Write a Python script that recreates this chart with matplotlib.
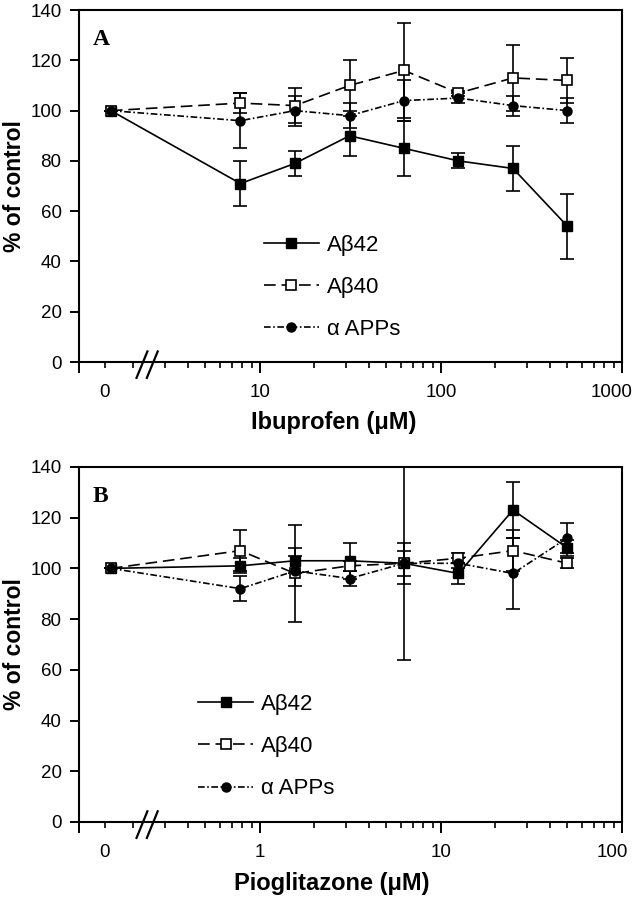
import matplotlib
matplotlib.use("Agg")
import matplotlib.pyplot as plt
import matplotlib.transforms as mtransforms
import numpy as np
from matplotlib.ticker import FixedLocator, FixedFormatter

plt.rcParams['font.family'] = ['Liberation Sans', 'DejaVu Sans']

# panel A - ibuprofen
ibu_conc = [1.5, 7.8, 15.6, 31.25, 62.5, 125, 250, 500]
ibu_ab42 = [100, 71, 79, 90, 85, 80, 77, 54]
ibu_ab42_err = [0, 9, 5, 8, 11, 3, 9, 13]
ibu_ab40 = [100, 103, 102, 110, 116, 107, 113, 112]
ibu_ab40_err = [0, 4, 7, 10, 19, 1, 13, 9]
ibu_apps = [100, 96, 100, 98, 104, 105, 102, 100]
ibu_apps_err = [0, 11, 6, 5, 8, 2, 4, 5]

# panel B - pioglitazone
pio_conc = [0.15, 0.78, 1.56, 3.125, 6.25, 12.5, 25, 50]
pio_ab42 = [100, 101, 103, 103, 102, 98, 123, 108]
pio_ab42_err = [0, 3, 5, 7, 38, 4, 11, 3]
pio_ab40 = [100, 107, 98, 101, 102, 104, 107, 102]
pio_ab40_err = [0, 8, 19, 2, 8, 2, 8, 2]
pio_apps = [100, 92, 99, 96, 102, 102, 98, 112]
pio_apps_err = [0, 5, 6, 3, 5, 2, 14, 6]

labels = ['A\u03b242', 'A\u03b240', '\u03b1 APPs']


def panel(ax, conc, series, errs, xmin, zero_pos, letter, xlabel, leg_x, xlab_x):
    styles = [dict(marker='s', ms=7.5, mfc='k', mec='k', ls='-'),
              dict(marker='s', ms=7.5, mfc='white', mec='k', mew=1.2, dashes=(7, 3.5)),
              dict(marker='o', ms=6.5, mfc='k', mec='k', dashes=(4, 1.5, 1, 1.5))]
    handles = []
    for y, e, st in zip(series, errs, styles):
        ax.errorbar(conc, y, yerr=e, fmt='none', ecolor='k', elinewidth=1.2,
                    capsize=5, capthick=1.2, zorder=2)
        h, = ax.plot(conc, y, color='k', lw=1.2, zorder=3, **st)
        handles.append(h)

    ax.set_xscale('log')
    ax.set_xlim(xmin, xmin * 1000)
    ax.set_ylim(0, 140)
    ax.set_yticks(np.arange(0, 141, 20))

    majors = [xmin, xmin * 10, xmin * 100, xmin * 1000]
    ax.xaxis.set_major_locator(FixedLocator(majors))
    ax.xaxis.set_major_formatter(FixedFormatter(['', '%g' % (xmin * 10), '%g' % (xmin * 100), '%g' % (xmin * 1000)]))
    minors = [zero_pos] + [m * d for d in majors[:3] for m in range(2, 10)]
    ax.xaxis.set_minor_locator(FixedLocator(minors))
    ax.xaxis.set_minor_formatter(FixedFormatter(['0'] + [''] * (len(minors) - 1)))

    ax.tick_params(axis='x', which='major', length=8, width=1.4, pad=8, labelsize=13.5, direction='out')
    ax.tick_params(axis='x', which='minor', length=4, width=1.2, pad=12, labelsize=13.5, direction='out')
    ax.tick_params(axis='y', which='major', length=6.5, width=1.4, pad=6, labelsize=13.5, direction='out')
    ax.tick_params(top=False, right=False)
    for s in ax.spines.values():
        s.set_linewidth(1.5)

    # last x label sits a little left of its tick, as in the original
    fig = ax.figure
    last = ax.xaxis.get_majorticklabels()[-1]
    last.set_transform(last.get_transform() +
                       mtransforms.ScaledTranslation(-10 / 100, 0, fig.dpi_scale_trans))

    # axis break mark
    for dx in (0.116, 0.135):
        ax.plot([dx - 0.010, dx + 0.010], [-0.045, 0.030], transform=ax.transAxes,
                color='k', lw=1.6, clip_on=False, zorder=5)

    ax.text(0.026, 0.945, letter, transform=ax.transAxes, fontsize=17, fontweight='bold',
            family='Liberation Serif', va='top', ha='left')
    ax.set_ylabel('% of control', fontsize=16.5, fontweight='bold')
    ax.yaxis.set_label_coords(-0.098, 0.5)
    ax.set_xlabel(xlabel, fontsize=17, fontweight='bold', va='center')
    ax.xaxis.set_label_coords(xlab_x, -0.172)

    ax.legend(handles, labels, loc='center left', bbox_to_anchor=(leg_x, 0.212),
              frameon=False, fontsize=16, handlelength=2.5, handletextpad=0.35,
              labelspacing=0.95, borderpad=0, borderaxespad=0)


fig = plt.figure(figsize=(6.4, 8.99), dpi=100)
axA = fig.add_axes([0.1234, 0.5973, 0.8484, 0.3915])
axB = fig.add_axes([0.1234, 0.0857, 0.8484, 0.3949])

panel(axA, ibu_conc, [ibu_ab42, ibu_ab40, ibu_apps], [ibu_ab42_err, ibu_ab40_err, ibu_apps_err],
      1, 1.39, 'A', 'Ibuprofen (\u03bcM)', 0.34, 0.47)
panel(axB, pio_conc, [pio_ab42, pio_ab40, pio_apps], [pio_ab42_err, pio_ab40_err, pio_apps_err],
      0.1, 0.139, 'B', 'Pioglitazone (\u03bcM)', 0.219, 0.465)

fig.savefig('out.png', dpi=100)
